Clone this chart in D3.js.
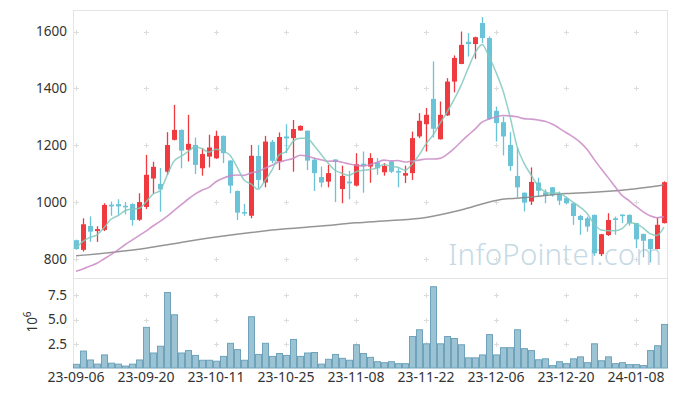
<!DOCTYPE html>
<html><head><meta charset="utf-8">
<script src="https://cdn.jsdelivr.net/npm/d3@7"></script>
<style>body{margin:0;background:#fff}svg{display:block}text{font-family:"Noto Sans",sans-serif}</style>
</head><body><svg id="c" width="677" height="396"></svg>
<script>
// ---- data ----
const opens  = [866,832,916,898,902,991,993,987,993,938,983,1083,1064,1107,1219,1254,1184,1201,1119,1160,1154,1233,1146,1039,965,952,1162,1069,1212,1143,1231,1225,1252,1251,1149,1088,1072,1150,1046,1072,1058,1135,1125,1140,1105,1143,1109,1093,1102,1231,1274,1363,1221,1305,1424,1486,1564,1556,1630,1577,1321,1281,1201,1092,1033,1002,1069,1034,1052,1031,1014,996,951,943,955,817,884,943,956,955,926,888,870,835,926];
const highs  = [868,943,950,915,996,1002,1010,1000,996,1031,1166,1142,1120,1246,1342,1255,1307,1227,1190,1237,1251,1234,1148,1041,994,1201,1201,1233,1219,1245,1274,1289,1270,1252,1157,1125,1131,1150,1128,1110,1172,1178,1172,1155,1137,1144,1119,1128,1248,1313,1331,1495,1354,1436,1516,1600,1595,1582,1651,1583,1336,1301,1246,1192,1034,1122,1086,1045,1053,1037,1019,997,955,949,956,888,961,949,957,957,927,889,871,945,1073];
const lows   = [832,826,860,860,898,952,955,957,917,934,976,1030,966,1096,1217,1119,1143,1099,1093,1122,1152,1137,1031,937,952,943,1049,1052,1137,1113,1172,1107,1251,1113,1039,1052,1052,1000,996,1010,1055,1033,1068,1096,1093,1102,1052,1067,1078,1225,1178,1227,1220,1303,1386,1485,1512,1504,1560,1290,1213,1164,1110,1017,967,990,1019,996,1019,990,993,920,885,896,811,810,881,885,926,917,838,806,788,834,925];
const closes = [835,922,896,905,990,985,985,983,937,1000,1096,1124,1045,1201,1254,1181,1205,1131,1169,1192,1233,1172,1058,963,963,1163,1078,1213,1145,1229,1224,1257,1268,1146,1102,1069,1102,1141,1092,1066,1133,1127,1155,1119,1127,1107,1105,1102,1225,1286,1307,1258,1307,1424,1507,1553,1556,1580,1577,1292,1278,1231,1127,1052,998,1071,1040,1022,1024,1005,996,951,937,914,820,887,937,937,951,926,869,864,835,920,1070];
const volumes = [0.38,1.75,0.83,0.4,1.35,0.5,0.4,0.2,0.4,0.83,4.2,1.55,2.25,7.8,5.5,1.55,1.8,1.3,0.8,0.8,0.7,1.2,2.55,1.9,0.8,5.3,1.4,2.55,1.2,1.5,1.3,2.95,1.2,1.55,1.6,0.4,0.9,1.4,1.0,0.8,2.4,1.5,1.1,0.65,0.55,0.65,0.45,0.45,3.25,3.95,2.5,8.4,2.5,3.25,3.05,2.4,1.05,1.05,1.35,3.45,1.35,2.1,2.1,3.95,2.0,1.8,0.85,0.95,0.25,0.65,0.45,0.95,1.15,0.55,2.5,0.75,1.15,0.45,0.55,0.35,0.35,0.25,1.8,2.3,4.5];
// first values of the moving averages (their windows start before the chart)
const ma5Head  = [838,862,876,885];
const ma20Head = [757,765,775,785,800,815,832,850,866,882,898,916,932,950,970,990,1010,1028,1042];
// long moving average read at sample days
const maLongIdx = [0,5,10,15,20,25,30,35,40,45,50,55,60,65,70,75,80,84];
const maLongVal = [811,823,838,858,877,893,906,916,927,935,946,972,1006,1018,1030,1036,1047,1060];
const tickIdx    = [0,10,20,30,40,50,60,70,80];
const tickLabels = ["23-09-06","23-09-20","23-10-11","23-10-25","23-11-08","23-11-22","23-12-06","23-12-20","24-01-08"];
const priceTicks = [800,1000,1200,1400,1600];
const volTicks   = [2.5,5.0,7.5];

// ---- derived ----
const n = closes.length;
function movingAvg(k, head){
  return d3.range(n).map(i => i < head.length ? head[i] : d3.mean(closes.slice(i-k+1, i+1)));
}
const ma5 = movingAvg(5, ma5Head);
const ma20 = movingAvg(20, ma20Head);

const svg = d3.select("#c");
const x = d3.scaleBand().domain(d3.range(n)).range([72.5, 667.5]).padding(0);
const cx = i => x(i) + x.bandwidth()/2;
const yP = d3.scaleLinear().domain([733, 1674]).range([278, 10.5]);
const yV = d3.scaleLinear().domain([0, 9.3]).range([368, 278]);

const UP = "#ef3a3f", DOWN = "#6bc3d8";

// frames
const gFrame = svg.append("g").attr("fill","none").attr("stroke","#e4e4e4");
gFrame.append("rect").attr("x",73.5).attr("y",10.5).attr("width",594).attr("height",268);
gFrame.append("line").attr("x1",73.5).attr("x2",73.5).attr("y1",278.5).attr("y2",368);
gFrame.append("line").attr("x1",667.5).attr("x2",667.5).attr("y1",278.5).attr("y2",368);

// grid plus-markers
const gGrid = svg.append("g").attr("stroke","#dddddd").attr("stroke-width",1);
function plus(px, py){
  px = Math.round(px)+0.5; py = Math.round(py)+0.5;
  gGrid.append("line").attr("x1",px-2.5).attr("x2",px+2.5).attr("y1",py).attr("y2",py);
  gGrid.append("line").attr("x1",px).attr("x2",px).attr("y1",py-2.5).attr("y2",py+2.5);
}
tickIdx.forEach(i => {
  priceTicks.forEach(p => plus(cx(i), yP(p)));
  volTicks.forEach(v => plus(cx(i), yV(v)));
});

// watermark
svg.append("text").attr("x",662).attr("y",265).attr("text-anchor","end")
  .attr("font-size",29.5).attr("font-weight",300).attr("fill","#c6dae5").attr("letter-spacing",0.2).text("InfoPointer.com");

// candles
const gC = svg.append("g");
d3.range(n).forEach(i => {
  const up = closes[i] >= opens[i];
  const col = up ? UP : DOWN;
  const xc = Math.round(cx(i));
  gC.append("line").attr("x1",xc+0.5).attr("x2",xc+0.5)
    .attr("y1",yP(highs[i])).attr("y2",yP(lows[i])).attr("stroke",col).attr("stroke-width",1.3);
  const top = yP(Math.max(opens[i],closes[i])), bot = yP(Math.min(opens[i],closes[i]));
  gC.append("rect").attr("x",xc-2).attr("width",5).attr("y",top).attr("height",Math.max(1.5,bot-top)).attr("fill",col);
});

// moving averages
const lineGen = d3.line().x((d,i)=>cx(i)).y(d=>yP(d)).curve(d3.curveMonotoneX);
svg.append("path").datum(maLongIdx.map((idx,k)=>[idx,maLongVal[k]]))
  .attr("d", d3.line().x(d=>cx(d[0])).y(d=>yP(d[1])).curve(d3.curveMonotoneX))
  .attr("fill","none").attr("stroke","#8a8a8a").attr("stroke-width",1.5).attr("opacity",0.9);
svg.append("path").datum(ma20).attr("d",lineGen)
  .attr("fill","none").attr("stroke","#c98ac6").attr("stroke-width",1.6).attr("opacity",0.85);
svg.append("path").datum(ma5).attr("d",lineGen)
  .attr("fill","none").attr("stroke","#80c9bd").attr("stroke-width",1.5).attr("opacity",0.85);

// volume bars
svg.append("g").selectAll("rect").data(volumes).join("rect")
  .attr("x",(d,i)=>Math.round(x(i))+0.5).attr("width",6)
  .attr("y",d=>yV(d)).attr("height",d=>yV(0)-yV(d))
  .attr("fill","#9bc3d3").attr("stroke","#6ea3bb").attr("stroke-width",1);

// axis labels
const gT = svg.append("g").attr("fill","#333").attr("font-size",13.5);
priceTicks.forEach(p => gT.append("text").attr("x",67).attr("y",yP(p)).attr("dy","0.36em").attr("text-anchor","end").text(p));
volTicks.forEach(v => gT.append("text").attr("x",67).attr("y",yV(v)).attr("dy","0.36em").attr("text-anchor","end").text(v.toFixed(1)));
tickIdx.forEach((i,k) => gT.append("text").attr("x",cx(i)).attr("y",382).attr("text-anchor","middle").attr("font-size",14).text(tickLabels[k]));
const unit = gT.append("text").attr("transform","translate(37,322) rotate(-90)").attr("text-anchor","middle");
unit.append("tspan").text("10");
unit.append("tspan").attr("dy",-6).attr("font-size",10).text("6");
</script></body></html>
